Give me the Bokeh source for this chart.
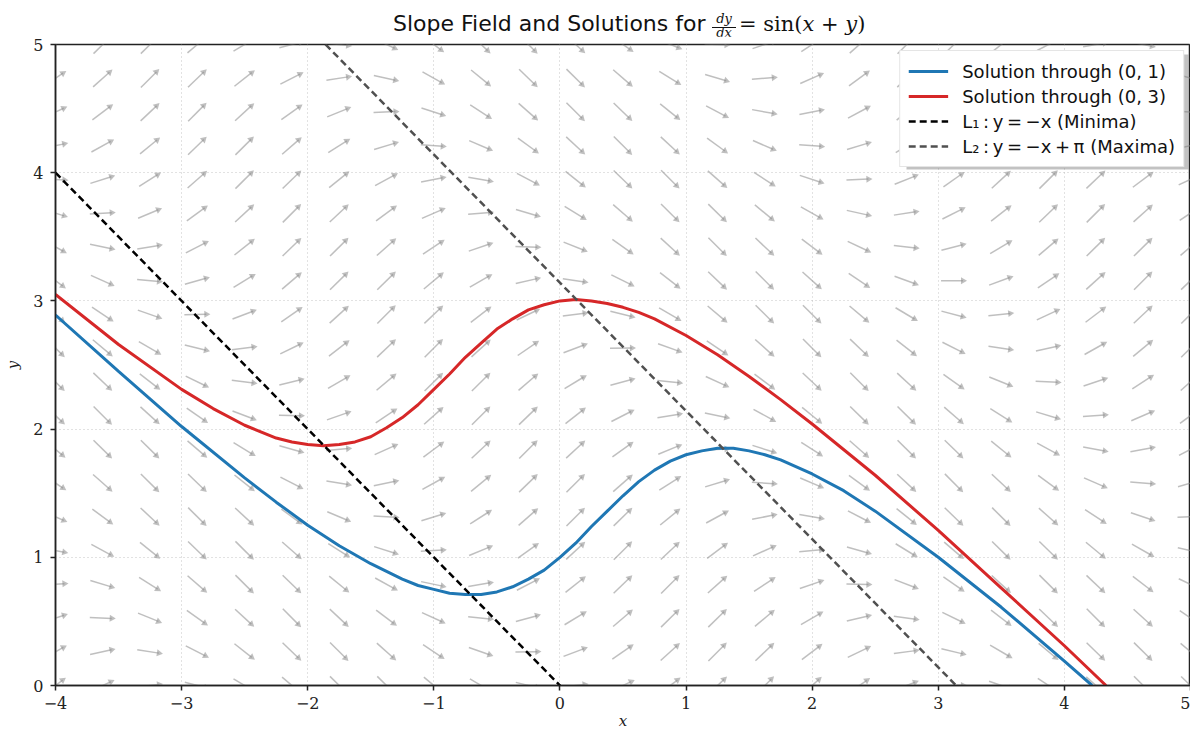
import numpy as np
from bokeh.plotting import figure
from bokeh.models import FixedTicker, Legend, LegendItem, Range1d, Div
from bokeh.layouts import column
from bokeh.embed import file_html
from bokeh.resources import INLINE

# ---------------- data ----------------
x_ticks = [-4, -3, -2, -1, 0, 1, 2, 3, 4, 5]
y_ticks = [0, 1, 2, 3, 4, 5]
x_tick_labels = ["\u22124", "\u22123", "\u22122", "\u22121", "0", "1", "2", "3", "4", "5"]
y_tick_labels = ["0", "1", "2", "3", "4", "5"]

blue_x = [-4.0, -3.5, -3.0, -2.5, -2.25, -2.0, -1.75, -1.5, -1.25, -1.125, -1.0, -0.875, -0.75,
          -0.625, -0.5, -0.375, -0.25, -0.125, 0.0, 0.125, 0.25, 0.375, 0.5, 0.625, 0.75,
          0.875, 1.0, 1.125, 1.25, 1.375, 1.5, 1.625, 1.75, 2.0, 2.25, 2.5, 3.0, 3.5, 4.0, 4.22]
blue_y = [2.89, 2.45, 2.02, 1.62, 1.43, 1.25, 1.09, 0.95, 0.83, 0.78, 0.75, 0.72, 0.71,
          0.71, 0.73, 0.77, 0.83, 0.90, 1.00, 1.11, 1.24, 1.36, 1.48, 1.59, 1.68,
          1.75, 1.80, 1.83, 1.85, 1.85, 1.83, 1.80, 1.76, 1.65, 1.52, 1.36, 1.00, 0.61, 0.19, 0.0]

red_x = [-4.0, -3.5, -3.0, -2.75, -2.5, -2.25, -2.125, -2.0, -1.875, -1.75, -1.625, -1.5,
         -1.375, -1.25, -1.125, -1.0, -0.875, -0.75, -0.625, -0.5, -0.375, -0.25, -0.125,
         0.0, 0.125, 0.25, 0.375, 0.5, 0.625, 0.75, 1.0, 1.25, 1.5, 1.75, 2.0, 2.5, 3.0,
         3.5, 4.0, 4.33]
red_y = [3.05, 2.66, 2.31, 2.16, 2.03, 1.93, 1.90, 1.88, 1.87, 1.88, 1.90, 1.94,
         2.01, 2.09, 2.19, 2.31, 2.43, 2.56, 2.67, 2.78, 2.86, 2.93, 2.97,
         3.00, 3.01, 3.00, 2.98, 2.95, 2.91, 2.86, 2.73, 2.58, 2.41, 2.23, 2.04, 1.64, 1.21,
         0.76, 0.31, 0.0]

l1_x = [-4.0, 5.0]
l1_y = [4.0, -5.0]
l2_x = [-4.0, 5.0]
l2_y = [7.1416, -1.8584]

TS = "\u2009"  # thin space
legend_labels = ["Solution through (0, 1)", "Solution through (0, 3)",
                 f"L\u2081{TS}:{TS}y{TS}={TS}\u2212x (Minima)",
                 f"L\u2082{TS}:{TS}y{TS}={TS}\u2212x{TS}+{TS}\u03c0 (Maxima)"]

# slope-field grid of dy/dx = sin(x + y)
field_x = np.linspace(-4, 5, 25)
field_y = np.linspace(0, 5, 20)

# ---------------- layout ----------------
W = 1190
TITLE_H = 36
H = 734 - TITLE_H
BL, BR, BT, BB = 55, 0, 8, 49
FW = W - BL - BR
FH = H - BT - BB

p = figure(width=W, height=H, x_range=Range1d(-4, 5), y_range=Range1d(0, 5),
           output_backend="svg", toolbar_location=None,
           min_border_left=BL, min_border_right=BR, min_border_top=BT, min_border_bottom=BB)
p.margin = (0, 0, 0, 0)
p.background_fill_color = "white"
p.border_fill_color = "white"
p.outline_line_color = "#222222"
p.outline_line_width = 1.5

for g in (p.xgrid, p.ygrid):
    g.grid_line_color = "#b8b8b8"
    g.grid_line_dash = "1 3"
    g.grid_line_width = 1
    g.grid_line_alpha = 0.8
p.xgrid.ticker = FixedTicker(ticks=x_ticks)
p.ygrid.ticker = FixedTicker(ticks=y_ticks)

p.xaxis.ticker = FixedTicker(ticks=x_ticks)
p.yaxis.ticker = FixedTicker(ticks=y_ticks)
p.xaxis.major_label_overrides = {t: s for t, s in zip(x_ticks, x_tick_labels)}
p.yaxis.major_label_overrides = {t: s for t, s in zip(y_ticks, y_tick_labels)}
for ax in (p.xaxis, p.yaxis):
    ax.axis_line_color = "#222222"
    ax.axis_line_width = 1.5
    ax.major_tick_line_color = "#222222"
    ax.major_tick_line_width = 1.5
    ax.major_tick_out = 5
    ax.major_tick_in = 0
    ax.minor_tick_line_color = None
    ax.major_label_text_font = "DejaVu Serif"
    ax.major_label_text_font_size = "16px"
    ax.major_label_text_color = "#222222"
    ax.axis_label_text_font = "DejaVu Serif"
    ax.axis_label_text_font_style = "italic"
    ax.axis_label_text_font_size = "15px"
    ax.axis_label_text_color = "#222222"
p.xaxis.major_label_standoff = 6
p.yaxis.major_label_standoff = 7
p.yaxis.axis_label = "y"
p.yaxis.axis_label_standoff = 8
p.xaxis.axis_label = "x"
p.xaxis.axis_label_standoff = 0

# ---------------- slope field arrows ----------------
X, Y = np.meshgrid(field_x, field_y)
S = np.sin(X + Y)
theta = np.arctan(S)
ux, uy = np.cos(theta), np.sin(theta)
sx, sy = FW / 9.0, FH / 5.0
half = 13.0
tri = 7.0
tri_h = tri * np.sqrt(3) / 2
x0 = X - half * ux / sx
y0 = Y - half * uy / sy
cx = X + (half - 2 * tri_h / 3) * ux / sx
cy = Y + (half - 2 * tri_h / 3) * uy / sy
arrow_col = "#8a8a8a"
p.segment(x0.ravel(), y0.ravel(), cx.ravel(), cy.ravel(), line_color=arrow_col,
          line_width=1.5, line_alpha=0.55)
p.scatter(cx.ravel(), cy.ravel(), marker="triangle", size=tri, angle=(theta - np.pi / 2).ravel(),
          fill_color=arrow_col, fill_alpha=0.55, line_color=None)

# ---------------- curves ----------------
rb = p.line(blue_x, blue_y, line_color="#1f77b4", line_width=3)
rr = p.line(red_x, red_y, line_color="#d62728", line_width=3)
r1 = p.line(l1_x, l1_y, line_color="black", line_width=2.5, line_dash="7 4")
r2 = p.line(l2_x, l2_y, line_color="#505050", line_width=2.5, line_dash="7 4")

# legend shadow (decoration, placed from legend pixel geometry)
LEG_M, LEG_W, LEG_H, SH = 6, 282, 115, 4
shx0 = 5 - (LEG_M + LEG_W - SH) / sx
shx1 = 5 - (LEG_M - SH) / sx
shy1 = 5 - (LEG_M + SH) / sy
shy0 = 5 - (LEG_M + LEG_H + SH) / sy
p.quad(left=[shx0], right=[shx1], bottom=[shy0], top=[shy1], fill_color="#777777",
       fill_alpha=0.45, line_color=None)

legend = Legend(items=[LegendItem(label=legend_labels[0], renderers=[rb]),
                       LegendItem(label=legend_labels[1], renderers=[rr]),
                       LegendItem(label=legend_labels[2], renderers=[r1]),
                       LegendItem(label=legend_labels[3], renderers=[r2])],
                location="top_right")
legend.margin = LEG_M
legend.padding = 8
legend.spacing = 1
legend.glyph_width = 40
legend.glyph_height = 24
legend.label_height = 24
legend.label_standoff = 14
legend.label_text_font = "DejaVu Sans"
legend.label_text_font_size = "18px"
legend.label_text_color = "#111111"
legend.border_line_color = "#cccccc"
legend.border_line_width = 1
legend.background_fill_color = "white"
legend.background_fill_alpha = 1.0
p.add_layout(legend)

# ---------------- title ----------------
title_html = (
    '<div style="position:relative;width:1190px;height:36px;color:#111;">'
    '<span style="position:absolute;left:393px;top:13px;font-family:\'DejaVu Sans\';'
    'font-size:22px;line-height:22px;white-space:nowrap;">Slope Field and Solutions for</span>'
    '<span style="position:absolute;left:711px;top:12px;width:26px;text-align:center;'
    'font-family:\'DejaVu Serif\';font-style:italic;font-size:13px;line-height:13px;">dy</span>'
    '<span style="position:absolute;left:712px;top:27px;width:24px;height:0;'
    'border-top:1px solid #111;"></span>'
    '<span style="position:absolute;left:711px;top:26px;width:26px;text-align:center;'
    'font-family:\'DejaVu Serif\';font-style:italic;font-size:13px;line-height:13px;">dx</span>'
    '<span style="position:absolute;left:739px;top:14px;font-family:\'DejaVu Serif\';'
    'font-size:21px;line-height:21px;white-space:nowrap;">= sin(<i>x</i> + <i>y</i>)</span>'
    '</div>'
)
title_div = Div(text=title_html, width=W, height=TITLE_H, margin=(0, 0, 0, 0))

layout = column(title_div, p, spacing=0)
open("out.html", "w").write(file_html(layout, INLINE))
